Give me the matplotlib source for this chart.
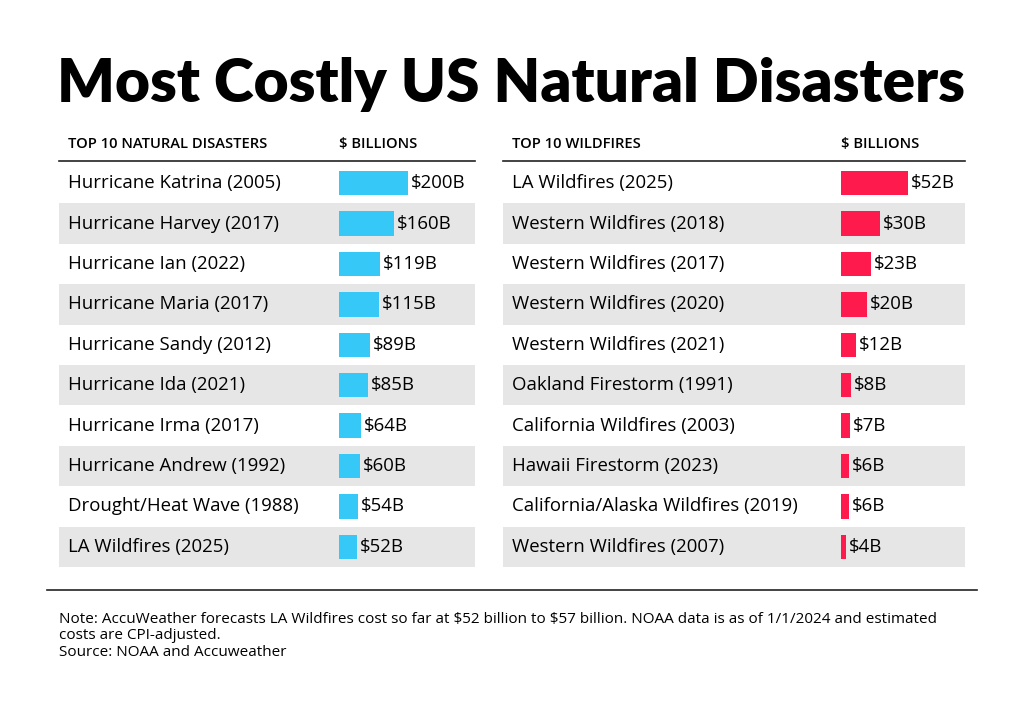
import matplotlib
matplotlib.use("Agg")
import matplotlib.pyplot as plt
from matplotlib.patches import Rectangle

plt.rcParams["text.parse_math"] = False

title = "Most Costly US Natural Disasters"
left_header = ["TOP 10 NATURAL DISASTERS", "$ BILLIONS"]
right_header = ["TOP 10 WILDFIRES", "$ BILLIONS"]
left_names = ["Hurricane Katrina (2005)", "Hurricane Harvey (2017)", "Hurricane Ian (2022)",
              "Hurricane Maria (2017)", "Hurricane Sandy (2012)", "Hurricane Ida (2021)",
              "Hurricane Irma (2017)", "Hurricane Andrew (1992)", "Drought/Heat Wave (1988)",
              "LA Wildfires (2025)"]
left_values = [200, 160, 119, 115, 89, 85, 64, 60, 54, 52]
right_names = ["LA Wildfires (2025)", "Western Wildfires (2018)", "Western Wildfires (2017)",
               "Western Wildfires (2020)", "Western Wildfires (2021)", "Oakland Firestorm (1991)",
               "California Wildfires (2003)", "Hawaii Firestorm (2023)",
               "California/Alaska Wildfires (2019)", "Western Wildfires (2007)"]
right_values = [52, 30, 23, 20, 12, 8, 7, 6, 6, 4]
note = ("Note: AccuWeather forecasts LA Wildfires cost so far at $52 billion to $57 billion. NOAA data is as of 1/1/2024 and estimated\n"
        "costs are CPI-adjusted.\nSource: NOAA and Accuweather")

W, H = 1024, 710
fig = plt.figure(figsize=(W/100, H/100), dpi=100)
ax = fig.add_axes([0, 0, 1, 1])
ax.set_xlim(0, W); ax.set_ylim(H, 0); ax.axis("off")

FONT = "Open Sans"
ax.text(511, 84, title, ha="center", va="center", fontsize=43.5, fontweight="heavy",
        family="Lato", color="black")

top, rh = 163, 40.4
def table(x0, x1, barx, header, names, values, color, vmax_px, vscale):
    ax.text(x0+9, 144, header[0], fontsize=10.6, fontweight="semibold", family=FONT, va="center")
    ax.text(barx, 144, header[1], fontsize=10.6, fontweight="semibold", family=FONT, va="center")
    ax.plot([x0, x1], [161, 161], color="#222222", lw=1.2)
    for i in range(len(names)):
        if i % 2 == 1:
            ax.add_patch(Rectangle((x0, top+i*rh), x1-x0, rh, color="#E6E6E6", lw=0))
        ax.text(x0+9, top+(i+0.5)*rh, names[i], fontsize=13.4, family=FONT, va="center")
    fx0 = barx / W
    fw = vmax_px / W
    bax = fig.add_axes([fx0, 1-(top+10*rh)/H, fw, 10*rh/H])
    bax.set_xlim(0, vscale); bax.set_ylim(9.5, -0.5); bax.axis("off")
    ys = list(range(len(values)))
    bax.barh(ys, values, height=0.6, color=color)
    for y, v in zip(ys, values):
        bax.annotate(f"${v}B", (v, y), xytext=(2, 0), textcoords="offset points",
                     va="center", fontsize=13.4, family=FONT)

table(59, 475, 339, left_header, left_names, left_values, "#36C8F6", 69, 200)
table(503, 965, 841, right_header, right_names, right_values, "#FF1A4D", 67, 52)

ax.plot([47, 977], [590, 590], color="#222222", lw=1.2)
ax.text(59, 612, note, fontsize=11, family=FONT, va="top", linespacing=1.12)

fig.savefig("out.png", dpi=100)
